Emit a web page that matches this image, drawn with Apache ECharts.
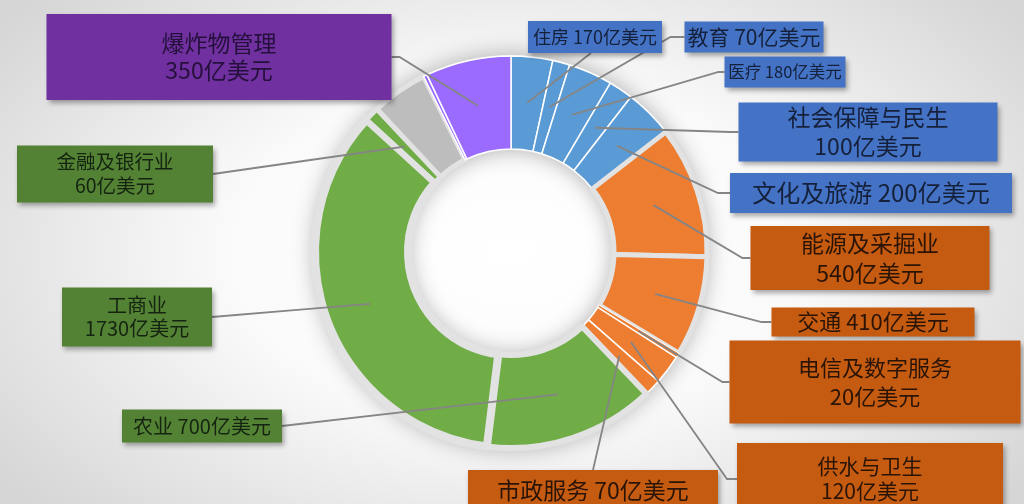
<!DOCTYPE html>
<html>
<head>
<meta charset="utf-8">
<script src="https://cdn.jsdelivr.net/npm/echarts@6/dist/echarts.min.js"></script>
<style>
  html, body { margin:0; padding:0; width:1024px; height:504px; overflow:hidden; }
  body { background: radial-gradient(ellipse 62% 75% at 50% 50%, #ffffff 0%, #fafafa 45%, #d6d6d6 100%); }
  #chart { width:1024px; height:504px; }
</style>
</head>
<body>
<div id="chart"></div>
<script>
// ---- data ----
const categories = ['住房', '教育', '医疗', '社会保障与民生', '文化及旅游',
  '能源及采掘业', '交通', '电信及数字服务', '供水与卫生', '市政服务',
  '农业', '工商业', '金融及银行业', '其他', '其他(爆炸物)', '爆炸物管理'];
const values = [170, 70, 180, 100, 200,
  540, 410, 20, 120, 70,
  700, 1730, 60, 230, 15, 350];
const labelled = [true, true, true, true, true,
  true, true, true, true, true,
  true, true, true, false, false, true];

// ---- styles (kept separate from data) ----
const FONT = '"Noto Sans CJK SC", "Noto Sans", sans-serif';
const group = ['b','b','b','b','b','o','o','o','o','o','g','g','g','x','p','p'];
const segColor = { b:'#5B9BD5', o:'#ED7D31', g:'#70AD47', x:'#BDBDBD', p:'#9B6BFF' };
const boxColor = { b:'#4472C4', o:'#C55A11', g:'#548235', p:'#7030A0' };
const txtColor = { b:'#15203a', o:'#2a1406', g:'#142410', p:'#24103a' };
const GAP = '#e2e2e2';
// border per segment: [color, width]
const segBorder = [
  ['#ffffff',1.5],['#ffffff',1.5],['#ffffff',1.5],['#ffffff',1.5],['#ffffff',1.5],
  [GAP,5],[GAP,5],['#ffffff',1],['#ffffff',1.5],['#ffffff',1.5],
  [GAP,6],[GAP,8],[GAP,5],[GAP,5],['#ffffff',1.5],['#ffffff',1.5]
];
// label boxes: centre x/y, width, height, font size, line height, two lines, attach side, bend length
const box = [
  {cx:595, cy:37,  w:134, h:32, fs:18, lh:24, two:false, side:'bottom', bend:0},
  {cx:754, cy:37,  w:139, h:31, fs:21, lh:26, two:false, side:'left', bend:14},
  {cx:785, cy:72,  w:121, h:31, fs:16.5, lh:22, two:false, side:'left', bend:6},
  {cx:868, cy:132, w:259, h:59, fs:23, lh:29, two:true,  side:'left', bend:8},
  {cx:871, cy:193, w:282, h:40, fs:24, lh:30, two:false, side:'left', bend:12},
  {cx:870, cy:258, w:239, h:64, fs:23, lh:30, two:true,  side:'left', bend:8},
  {cx:873, cy:322, w:203, h:29, fs:22, lh:27, two:false, side:'left', bend:10},
  {cx:875, cy:382, w:291, h:83, fs:22, lh:29, two:true,  side:'left', bend:7},
  {cx:870, cy:479, w:266, h:72, fs:21, lh:25, two:true,  side:'left', bend:10},
  {cx:593, cy:490, w:250, h:40, fs:23, lh:28, two:false, side:'top', bend:0},
  {cx:202, cy:426, w:160, h:33, fs:20, lh:25, two:false, side:'right', bend:0},
  {cx:137, cy:317, w:150, h:59, fs:20, lh:23, two:true,  side:'right', bend:0},
  {cx:115, cy:174, w:196, h:57, fs:19.5, lh:24, two:true,  side:'right', bend:0},
  null, null,
  {cx:219, cy:57,  w:345, h:86, fs:23, lh:27, two:true,  side:'right', bend:8}
];

const CENTER = [511, 252];

const ringData = categories.map((n, i) => ({
  name: n, value: values[i],
  itemStyle: { color: segColor[group[i]], borderColor: segBorder[i][0], borderWidth: segBorder[i][1] }
}));

const labelData = categories.map((n, i) => {
  const b = box[i];
  if (!labelled[i] || !b) {
    return { name: n, value: values[i], label: { show: false }, labelLine: { show: false } };
  }
  const lines = b.two ? 2 : 1;
  const pv = Math.max(0, (b.h - lines * b.lh) / 2);
  return {
    name: n, value: values[i],
    label: {
      show: true,
      formatter: b.two ? '{b}\n{c}亿美元' : '{b} {c}亿美元',
      fontFamily: FONT, fontSize: b.fs, lineHeight: b.lh,
      color: txtColor[group[i]],
      backgroundColor: boxColor[group[i]],
      width: b.w, padding: [pv, 0, pv, 0],
      align: 'center', overflow: 'none',
      shadowColor: 'rgba(0,0,0,0.35)', shadowBlur: 5, shadowOffsetX: 2, shadowOffsetY: 3
    },
    labelLine: { show: true }
  };
});

const chart = echarts.init(document.getElementById('chart'), null, { renderer: 'canvas' });
chart.setOption({
  backgroundColor: 'transparent',
  animation: false,
  series: [
    {
      type: 'pie', silent: true, z: 1, center: CENTER, radius: [102, 197],
      label: { show: false }, labelLine: { show: false },
      itemStyle: { color: GAP, shadowBlur: 22, shadowColor: 'rgba(0,0,0,0.30)', borderWidth: 0 },
      data: [{ name: 'ring', value: 1 }]
    },
    {
      type: 'pie', silent: true, z: 2, center: CENTER, radius: [103, 196],
      startAngle: 90, clockwise: true,
      label: { show: false }, labelLine: { show: false },
      data: ringData
    },
    {
      type: 'pie', silent: true, z: 5, center: CENTER, radius: [0, 150],
      startAngle: 90, clockwise: true, avoidLabelOverlap: false,
      itemStyle: { color: 'rgba(0,0,0,0)', borderWidth: 0 },
      label: { show: true, position: 'outside' },
      labelLine: { show: true, length: 10, length2: 10, lineStyle: { color: '#858585', width: 1.8 } },
      labelLayout: function (p) {
        const b = box[p.dataIndex];
        if (!b) return {};
        const start = p.labelLinePoints ? p.labelLinePoints[0] : null;
        let end, bend;
        if (b.side === 'left') { end = [b.cx - b.w / 2, b.cy]; bend = [end[0] - b.bend, end[1]]; }
        else if (b.side === 'right') { end = [b.cx + b.w / 2, b.cy]; bend = [end[0] + b.bend, end[1]]; }
        else if (b.side === 'bottom') { end = [b.cx - 4, b.cy + b.h / 2]; bend = null; }
        else { end = [b.cx, b.cy - b.h / 2]; bend = null; }
        const out = { x: b.cx, y: b.cy, align: 'center', verticalAlign: 'middle' };
        if (start) {
          if (!bend || b.bend === 0) bend = [(start[0] + end[0]) / 2, (start[1] + end[1]) / 2];
          out.labelLinePoints = [start, bend, end];
        }
        return out;
      },
      data: labelData
    }
  ]
});
</script>
</body>
</html>
